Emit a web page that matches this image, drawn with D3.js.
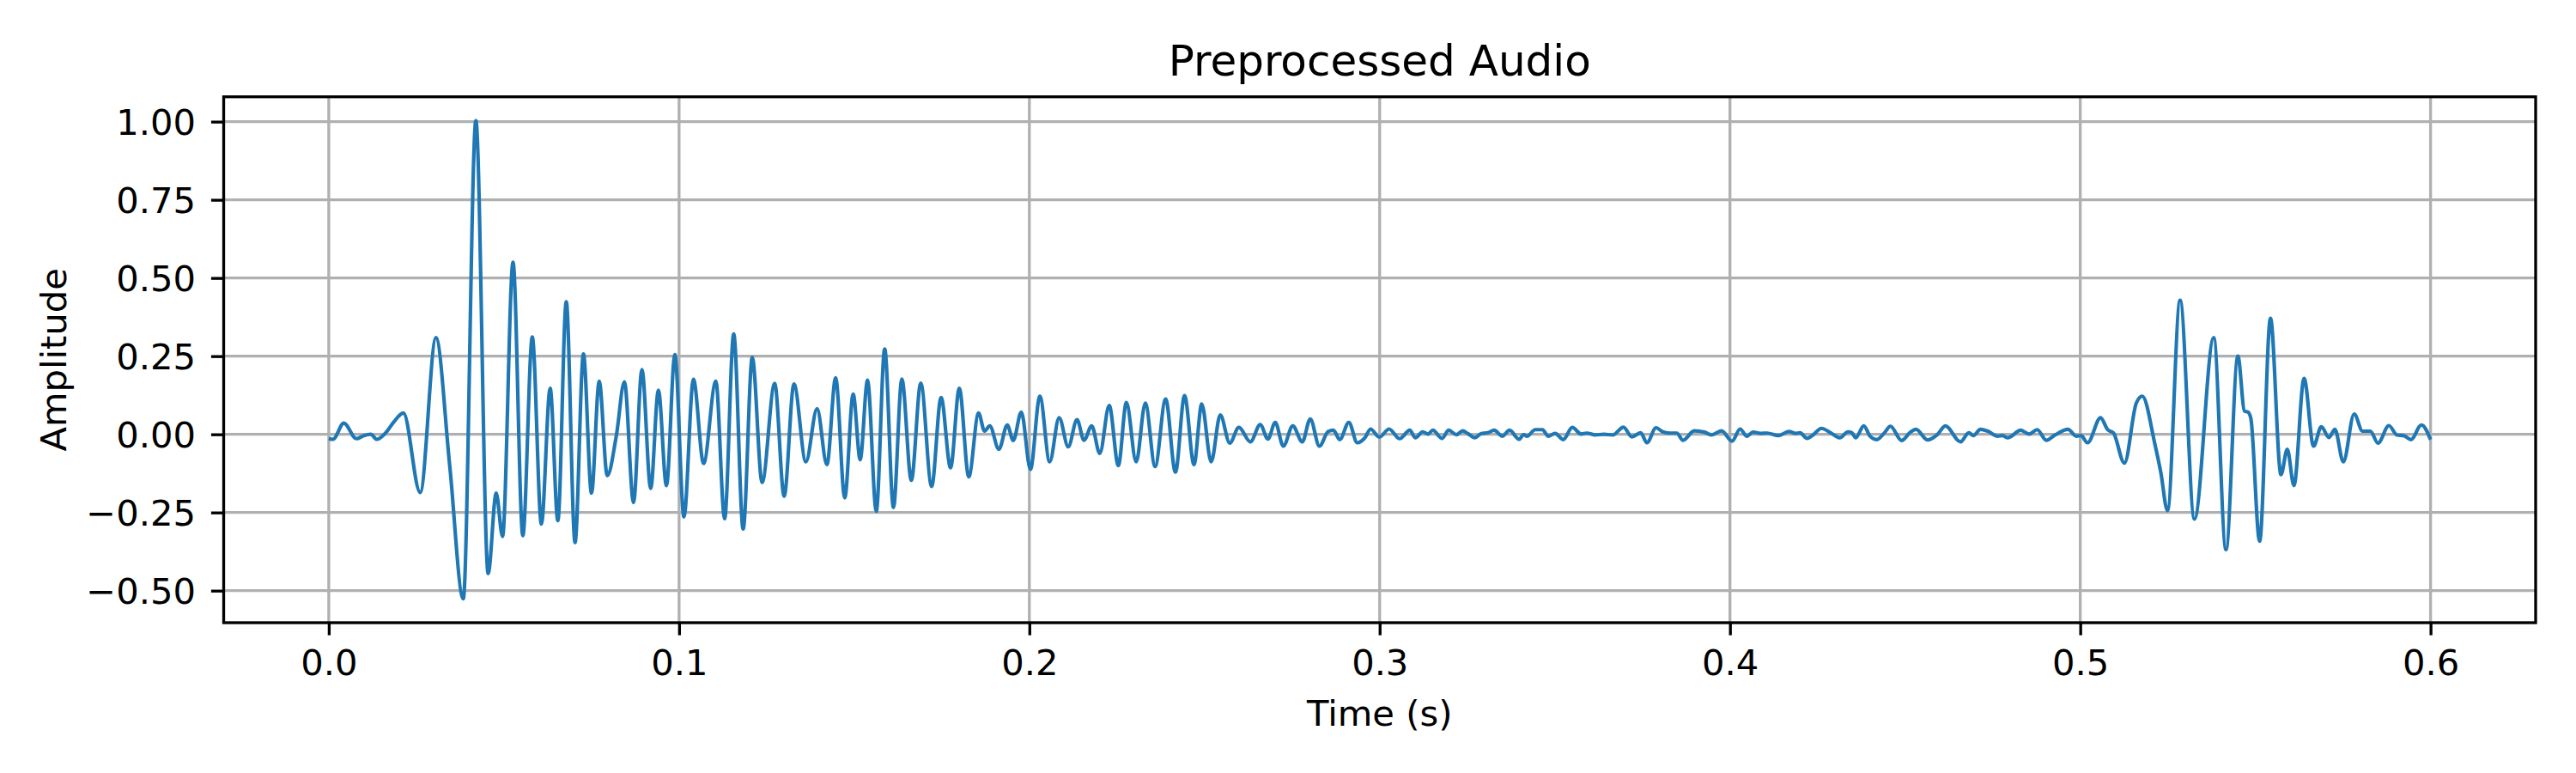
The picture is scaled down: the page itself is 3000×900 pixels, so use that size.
<!DOCTYPE html>
<html>
<head>
<meta charset="utf-8">
<script src="https://cdn.jsdelivr.net/npm/d3@7"></script>
<style>
  body { margin: 0; background: #fff; }
  svg { display: block; font-family: "DejaVu Sans", sans-serif; }
</style>
</head>
<body>
<svg id="chart" width="3000" height="900"></svg>
<script>
// waveform turning points (seconds, amplitude)
const timeS = [
  0.0000, 0.0012, 0.0043, 0.0079, 0.0100, 0.0120, 0.0137, 0.0165, 0.0186, 0.0213,
  0.0261, 0.0306, 0.0345, 0.0384, 0.0420, 0.0455, 0.0478, 0.0496, 0.0526, 0.0554,
  0.0581, 0.0607, 0.0632, 0.0654, 0.0678, 0.0703, 0.0727, 0.0750, 0.0772, 0.0795,
  0.0821, 0.0844, 0.0870, 0.0894, 0.0919, 0.0941, 0.0964, 0.0988, 0.1014, 0.1041,
  0.1070, 0.1105, 0.1130, 0.1156, 0.1183, 0.1209, 0.1237, 0.1273, 0.1300, 0.1328,
  0.1362, 0.1394, 0.1422, 0.1447, 0.1473, 0.1497, 0.1517, 0.1538, 0.1563, 0.1587,
  0.1612, 0.1636, 0.1663, 0.1690, 0.1721, 0.1748, 0.1775, 0.1800, 0.1827, 0.1855,
  0.1872, 0.1887, 0.1913, 0.1937, 0.1954, 0.1977, 0.2003, 0.2030, 0.2058, 0.2085,
  0.2111, 0.2136, 0.2156, 0.2178, 0.2201, 0.2228, 0.2254, 0.2277, 0.2305, 0.2331,
  0.2359, 0.2389, 0.2417, 0.2443, 0.2470, 0.2492, 0.2519, 0.2545, 0.2572, 0.2598,
  0.2631, 0.2659, 0.2681, 0.2702, 0.2725, 0.2752, 0.2779, 0.2802, 0.2828, 0.2853,
  0.2868, 0.2886, 0.2912, 0.2936, 0.2958, 0.2974, 0.2999, 0.3027, 0.3057, 0.3086,
  0.3102, 0.3123, 0.3138, 0.3152, 0.3178, 0.3197, 0.3219, 0.3237, 0.3252, 0.3272,
  0.3289, 0.3309, 0.3327, 0.3350, 0.3371, 0.3398, 0.3411, 0.3421, 0.3444, 0.3465,
  0.3481, 0.3501, 0.3524, 0.3550, 0.3575, 0.3591, 0.3616, 0.3640, 0.3665, 0.3696,
  0.3720, 0.3745, 0.3763, 0.3789, 0.3808, 0.3828, 0.3848, 0.3866, 0.3898, 0.3927,
  0.3947, 0.3976, 0.4006, 0.4029, 0.4048, 0.4066, 0.4086, 0.4106, 0.4139, 0.4168,
  0.4188, 0.4200, 0.4220, 0.4237, 0.4261, 0.4290, 0.4314, 0.4337, 0.4348, 0.4359,
  0.4382, 0.4400, 0.4419, 0.4441, 0.4458, 0.4490, 0.4515, 0.4531, 0.4564, 0.4591,
  0.4615, 0.4658, 0.4682, 0.4695, 0.4715, 0.4736, 0.4764, 0.4778, 0.4793, 0.4830,
  0.4854, 0.4877, 0.4903, 0.4928, 0.4965, 0.4989, 0.5002, 0.5021, 0.5058, 0.5078,
  0.5095, 0.5126, 0.5160, 0.5177, 0.5213, 0.5230, 0.5249, 0.5285, 0.5326, 0.5381,
  0.5416, 0.5450, 0.5469, 0.5479, 0.5487, 0.5512, 0.5543, 0.5573, 0.5591, 0.5610,
  0.5639, 0.5666, 0.5688, 0.5710, 0.5727, 0.5751, 0.5782, 0.5806, 0.5828, 0.5850,
  0.5881, 0.5904, 0.5925, 0.5944, 0.5974, 0.6000
];
const amplitude = [
  -0.013, -0.016, 0.036, -0.014, -0.004, 0.000, -0.016, 0.008, 0.040, 0.068,
  -0.186, 0.309, -0.097, -0.526, 1.003, -0.445, -0.188, -0.327, 0.550, -0.324,
  0.311, -0.287, 0.147, -0.276, 0.424, -0.346, 0.257, -0.188, 0.170, -0.132,
  -0.004, 0.168, -0.218, 0.207, -0.173, 0.141, -0.164, 0.255, -0.264, 0.176,
  -0.093, 0.170, -0.270, 0.321, -0.303, 0.246, -0.154, 0.163, -0.198, 0.161,
  -0.088, 0.082, -0.097, 0.181, -0.203, 0.129, -0.081, 0.173, -0.246, 0.273,
  -0.234, 0.177, -0.147, 0.164, -0.167, 0.118, -0.107, 0.147, -0.136, 0.068,
  0.010, 0.027, -0.048, 0.030, -0.020, 0.071, -0.112, 0.122, -0.088, 0.053,
  -0.040, 0.047, -0.019, 0.027, -0.061, 0.092, -0.100, 0.102, -0.088, 0.100,
  -0.103, 0.113, -0.121, 0.124, -0.097, 0.097, -0.088, 0.062, -0.028, 0.022,
  -0.024, 0.031, -0.015, 0.038, -0.038, 0.027, -0.024, 0.049, -0.038, 0.009,
  0.013, -0.017, 0.038, -0.027, -0.011, 0.017, -0.009, 0.017, -0.014, 0.013,
  -0.011, 0.008, 0.001, 0.013, -0.013, 0.013, -0.001, 0.011, 0.002, -0.011,
  0.002, 0.005, 0.013, -0.006, 0.013, -0.016, -0.001, -0.006, 0.015, 0.015,
  -0.006, 0.003, -0.017, 0.022, 0.001, 0.004, -0.002, 0.000, -0.002, 0.023,
  -0.008, 0.005, -0.027, 0.021, 0.008, 0.004, 0.004, -0.019, 0.011, 0.007,
  -0.002, 0.011, -0.022, 0.017, -0.006, 0.007, 0.003, 0.004, -0.004, 0.009,
  0.003, 0.005, -0.013, -0.002, 0.019, 0.003, -0.011, 0.008, 0.005, -0.011,
  0.027, -0.006, -0.017, 0.005, 0.026, -0.020, 0.007, 0.016, -0.018, -0.002,
  0.027, -0.024, 0.005, -0.004, 0.016, 0.010, -0.006, -0.004, -0.011, 0.013,
  0.001, 0.015, -0.019, -0.002, 0.016, -0.006, -0.004, -0.027, 0.053, 0.015,
  0.004, -0.092, 0.100, 0.122, -0.031, -0.122, -0.244, 0.429, -0.271, 0.309,
  -0.369, 0.250, 0.074, 0.071, 0.051, -0.342, 0.371, -0.129, -0.048, -0.164,
  0.179, -0.038, 0.024, -0.010, 0.016, -0.088, 0.065, 0.010, 0.010, -0.028,
  0.028, -0.002, -0.005, -0.017, 0.030, -0.017
];
const xTicks = [0.0, 0.1, 0.2, 0.3, 0.4, 0.5, 0.6];
const yTicks = [-0.50, -0.25, 0.00, 0.25, 0.50, 0.75, 1.00];

const W = 3000, H = 900;
const margin = {left: 260.5, right: 47, top: 112.7, bottom: 175};
const fs = 41.67;   // 10pt at 300 dpi
const lw = 3.33;    // 0.8pt

const svg = d3.select("#chart");
const iw = W - margin.left - margin.right,
      ih = H - margin.top - margin.bottom;

const data = timeS.map((t, i) => ({t: t, a: amplitude[i]}));

// matplotlib style 5% padding
const tx = d3.extent(timeS), ty = d3.extent(amplitude);
const px = (tx[1] - tx[0]) * 0.05, py = (ty[1] - ty[0]) * 0.05;

const x = d3.scaleLinear().domain([tx[0] - px, tx[1] + px]).range([0, iw]);
const y = d3.scaleLinear().domain([ty[0] - py, ty[1] + py]).range([ih, 0]);

svg.append("rect").attr("width", W).attr("height", H).attr("fill", "#fff");

const g = svg.append("g")
    .attr("transform", "translate(" + margin.left + "," + margin.top + ")");

// grid
g.append("g").selectAll("line")
    .data(xTicks).enter().append("line")
    .attr("x1", d => x(d)).attr("x2", d => x(d))
    .attr("y1", 0).attr("y2", ih)
    .attr("stroke", "#b0b0b0").attr("stroke-width", lw);
g.append("g").selectAll("line")
    .data(yTicks).enter().append("line")
    .attr("x1", 0).attr("x2", iw)
    .attr("y1", d => y(d)).attr("y2", d => y(d))
    .attr("stroke", "#b0b0b0").attr("stroke-width", lw);

// waveform
const line = d3.line()
    .x(d => x(d.t))
    .y(d => y(d.a))
    .curve(d3.curveMonotoneX);

g.append("path")
    .datum(data)
    .attr("d", line)
    .attr("fill", "none")
    .attr("stroke", "#1f77b4")
    .attr("stroke-width", 4.17)
    .attr("stroke-linejoin", "round");

// axes
const xAxis = g.append("g")
    .attr("transform", "translate(0," + ih + ")")
    .call(d3.axisBottom(x).tickValues(xTicks).tickFormat(d3.format(".1f"))
        .tickSize(14.6).tickPadding(17));
const yAxis = g.append("g")
    .call(d3.axisLeft(y).tickValues(yTicks).tickFormat(d3.format(".2f"))
        .tickSize(14.6).tickPadding(18));

[xAxis, yAxis].forEach(a => {
  a.select(".domain").remove();
  a.selectAll(".tick line").attr("stroke", "#000").attr("stroke-width", lw);
  a.selectAll(".tick text")
      .attr("fill", "#000")
      .style("font-family", "'DejaVu Sans', sans-serif")
      .style("font-size", fs + "px");
});
yAxis.selectAll(".tick text").attr("dy", "0.36em");

// frame
g.append("rect")
    .attr("width", iw).attr("height", ih)
    .attr("fill", "none")
    .attr("stroke", "#000")
    .attr("stroke-width", lw);

// labels
svg.append("text")
    .attr("x", margin.left + iw / 2).attr("y", 88)
    .attr("text-anchor", "middle")
    .style("font-size", "50px")
    .text("Preprocessed Audio");

svg.append("text")
    .attr("x", margin.left + iw / 2).attr("y", 845)
    .attr("text-anchor", "middle")
    .style("font-size", fs + "px")
    .text("Time (s)");

svg.append("text")
    .attr("transform", "translate(77," + (margin.top + ih / 2) + ") rotate(-90)")
    .attr("text-anchor", "middle")
    .style("font-size", fs + "px")
    .text("Amplitude");
</script>
</body>
</html>
